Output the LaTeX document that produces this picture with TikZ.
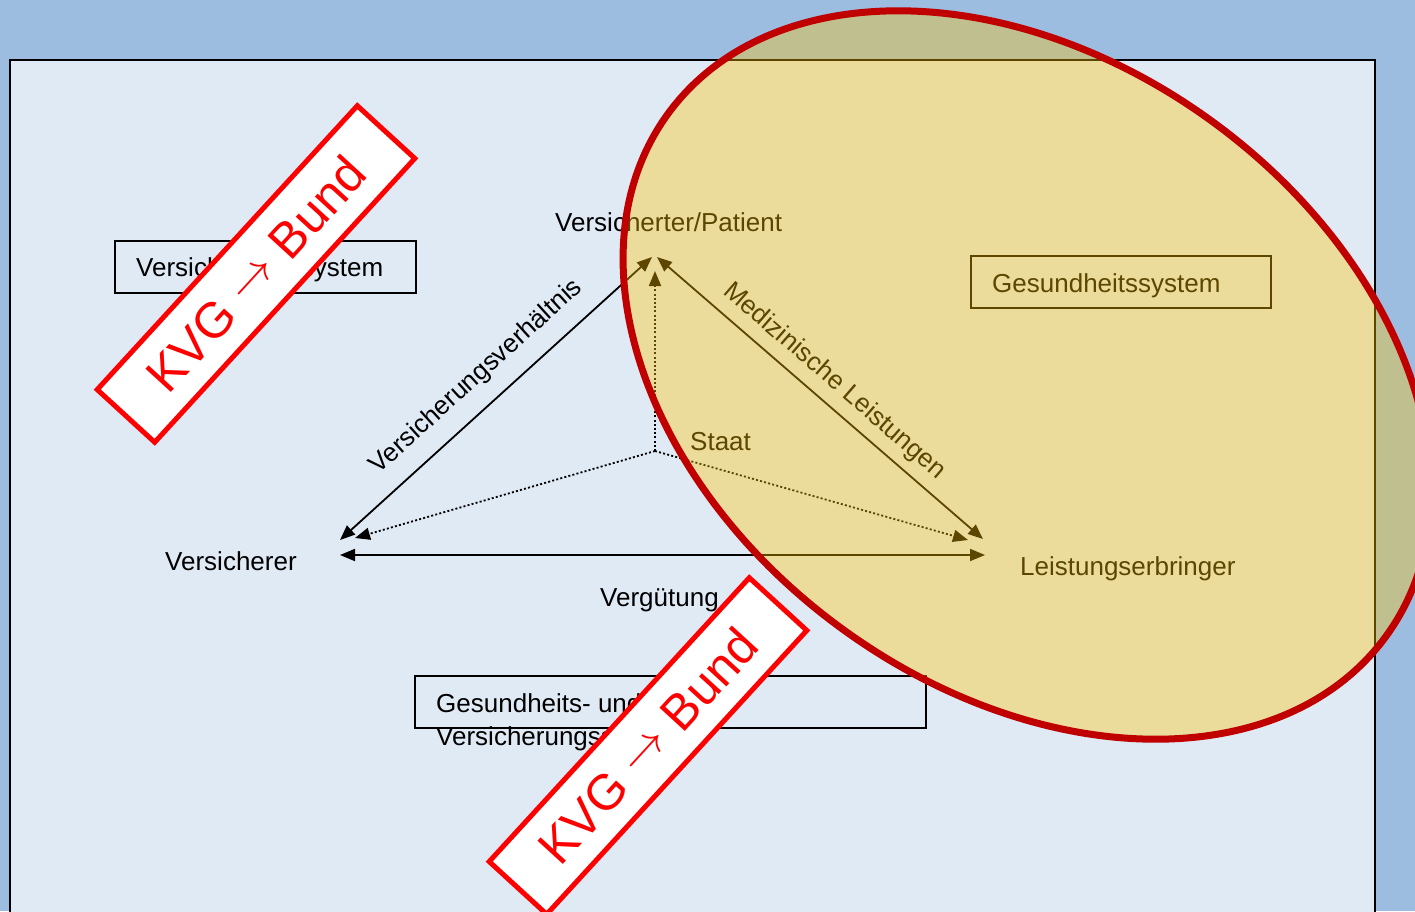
\documentclass[tikz,border=0pt]{standalone}
\usepackage{fontspec}
\usepackage{graphicx}
\setmainfont{Liberation Sans}
\usetikzlibrary{arrows.meta}
\definecolor{hgblau}{HTML}{9DBDE0}
\definecolor{feldblau}{HTML}{E0EAF5}
\definecolor{stempelrot}{HTML}{FF0000}
\definecolor{ellrot}{HTML}{C00000}
\definecolor{ellgelb}{HTML}{FFC400}
\newcommand{\stempelpfeil}{\raisebox{0.1em}{\scalebox{1.9}{$\rightarrow$}}}
\tikzset{
  kasten/.style={draw=black,line width=1.5pt,minimum height=52pt,inner sep=0pt},
  lbl/.style={font=\fontsize{26}{33}\selectfont,inner sep=0pt},
  pfeil/.style={line width=1.8pt,<->},
  punkt/.style={line width=1.8pt,dash pattern=on 2pt off 2.2pt,->},
  stempel/.style={draw=stempelrot,fill=white,line width=5pt,minimum width=385pt,
    minimum height=78pt,inner sep=0pt,rotate=47.5,text=stempelrot,
    font=\fontsize{50}{55}\selectfont},
  ellform/.style={rotate around={-36:(1027,375)}}
}
\begin{document}
\begin{tikzpicture}[x=1pt,y=-1pt,>={Triangle[length=15pt,width=12pt]}]
  \clip (0,0) rectangle (1415,911);
  % Hintergrund
  \fill[hgblau] (0,0) rectangle (1415,911);
  \filldraw[fill=feldblau,draw=black,line width=2pt] (10,60) rectangle (1375,930);
  % Kaesten
  \node[kasten,lbl,minimum width=301pt,anchor=north west] (vskasten) at (114,240) {};
  \node[lbl,anchor=base west] at (136,276) {Versicherungssystem};
  \node[kasten,lbl,minimum width=300pt,anchor=north west] (gskasten) at (970,255) {};
  \node[lbl,anchor=base west] at (992,292) {Gesundheitssystem};
  \node[kasten,lbl,minimum width=511pt,anchor=north west] (gvkasten) at (414,675) {};
  \node[lbl,align=left,anchor=north west] (gvtext) at (436,693) {Gesundheits- und\\Versicherungssystem};
  % Akteure
  \node[lbl,anchor=base west] (patient) at (555,231) {Versicherter/Patient};
  \node[lbl,anchor=base west] (versicherer) at (165,570) {Versicherer};
  \node[lbl,anchor=base west] (erbringer) at (1020,575) {Leistungserbringer};
  \node[lbl,anchor=base west] (verguetung) at (600,606) {Vergütung};
  \node[lbl,anchor=base west] (staatlbl) at (690,450) {Staat};
  % Pfeilenden
  \coordinate (vsL) at (340,540);  \coordinate (vsP) at (652,257);
  \coordinate (mlP) at (657,257);  \coordinate (mlE) at (983,539);
  \coordinate (vgL) at (340,555);  \coordinate (vgE) at (985,555);
  \coordinate (staat) at (655,451);
  \coordinate (stP) at (655,271);  \coordinate (stV) at (355,538);
  \coordinate (stE) at (968,540);
  % Beziehungen
  \draw[pfeil] (vsL) -- (vsP)
    node[lbl,midway,sloped,above=16pt] {Versicherungsverhältnis};
  \draw[pfeil] (mlP) -- (mlE)
    node[lbl,midway,sloped,above=9pt] {Medizinische Leistungen};
  \draw[pfeil] (vgL) -- (vgE);
  \draw[punkt] (staat) -- (stP);
  \draw[punkt] (staat) -- (stV);
  \draw[punkt] (staat) -- (stE);
  % Ellipse
  \filldraw[draw=ellrot,line width=7pt,fill=ellgelb,fill opacity=0.36,ellform]
    (1027,375) ellipse [x radius=444,y radius=314];
  % Stempel
  \node[stempel] (stempelA) at (256,274) {KVG \stempelpfeil{} Bund};
  \node[stempel] (stempelB) at (648,746) {KVG \stempelpfeil{} Bund};
\end{tikzpicture}
\end{document}
